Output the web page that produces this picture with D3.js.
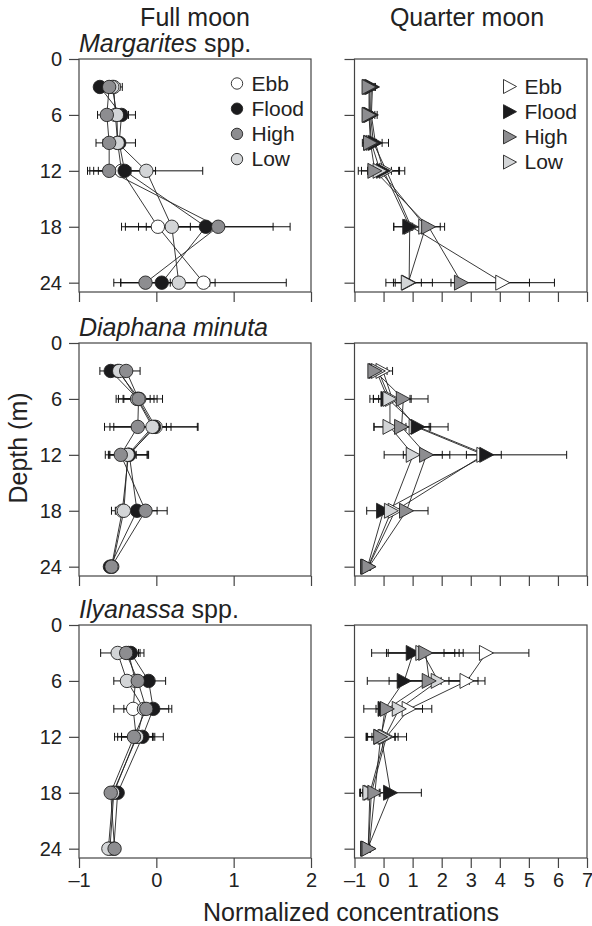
<!DOCTYPE html>
<html>
<head>
<meta charset="utf-8">
<script src="https://cdn.jsdelivr.net/npm/d3@7"></script>
<style>
  body { margin: 0; background: #fff; }
  svg { display: block; font-family: "Liberation Sans", Arial, Helvetica, sans-serif; }
</style>
</head>
<body>
<div id="chart"></div>
<script>
// sampling depths and tide states
const depths = [3, 6, 9, 12, 18, 24];
const tides = ["Ebb", "Flood", "High", "Low"];
const depthTicks = [0, 6, 12, 18, 24];
const fullTicks = [-1, 0, 1, 2];
const quarterTicks = [-1, 0, 1, 2, 3, 4, 5, 6, 7];
const columnTitles = ["Full moon", "Quarter moon"];
const speciesNames = [["Margarites", " spp."], ["Diaphana minuta", ""], ["Ilyanassa", " spp."]];

// mean normalized concentration, one row per tide (Ebb, Flood, High, Low)
const margaritesFull = [
  [-0.55, -0.53, -0.50, -0.45, 0.02, 0.61],
  [-0.73, -0.45, -0.48, -0.41, 0.64, 0.07],
  [-0.61, -0.64, -0.61, -0.61, 0.80, -0.14],
  [-0.57, -0.51, -0.50, -0.13, 0.20, 0.29]
];
const margaritesFullErr = [
  [0.08, 0.10, 0.08, 0.30, 0.42, 1.07],
  [0.05, 0.18, 0.21, 0.40, 0.87, 0.62],
  [0.06, 0.12, 0.17, 0.28, 0.93, 0.32],
  [0.13, 0.15, 0.09, 0.73, 0.65, 0.47]
];
const margaritesQuarter = [
  [-0.42, -0.45, -0.35, 0.10, 0.95, 4.10],
  [-0.38, -0.42, -0.28, 0.00, 0.90, 0.88],
  [-0.50, -0.50, -0.45, -0.30, 1.55, 2.68],
  [-0.47, -0.48, -0.42, -0.12, 1.45, 0.85]
];
const margaritesQuarterErr = [
  [0.10, 0.15, 0.30, 0.63, 0.60, 1.78],
  [0.10, 0.20, 0.45, 0.55, 0.55, 0.80],
  [0.08, 0.08, 0.20, 0.57, 0.55, 2.34],
  [0.10, 0.10, 0.15, 0.64, 0.50, 0.45]
];
const diaphanaFull = [
  [-0.50, -0.22, -0.01, -0.36, -0.44, -0.58],
  [-0.59, -0.24, -0.03, -0.35, -0.25, -0.60],
  [-0.39, -0.23, -0.24, -0.46, -0.14, -0.58],
  [-0.48, -0.25, -0.05, -0.37, -0.42, -0.57]
];
const diaphanaFullErr = [
  [0.10, 0.30, 0.54, 0.25, 0.09, 0.03],
  [0.14, 0.25, 0.57, 0.25, 0.26, 0.03],
  [0.18, 0.20, 0.43, 0.20, 0.28, 0.03],
  [0.12, 0.17, 0.18, 0.25, 0.16, 0.03]
];
const diaphanaQuarter = [
  [-0.02, 0.30, 1.12, 3.45, 0.40, -0.52],
  [-0.25, 0.15, 1.19, 3.55, 0.00, -0.55],
  [-0.30, 0.68, 0.62, 1.48, 0.79, -0.50],
  [-0.18, 0.22, 0.22, 1.02, 0.27, -0.53]
];
const diaphanaQuarterErr = [
  [0.33, 0.65, 0.50, 0.60, 0.30, 0.05],
  [0.15, 0.50, 1.03, 2.75, 0.58, 0.05],
  [0.15, 0.85, 0.95, 0.80, 0.74, 0.05],
  [0.30, 0.69, 0.55, 1.00, 0.45, 0.05]
];
const ilyanassaFull = [
  [-0.36, -0.27, -0.30, -0.26, -0.55, -0.60],
  [-0.33, -0.10, -0.04, -0.18, -0.50, -0.55],
  [-0.39, -0.24, -0.13, -0.29, -0.59, -0.54],
  [-0.50, -0.38, -0.16, -0.25, -0.56, -0.62]
];
const ilyanassaFullErr = [
  [0.15, 0.15, 0.25, 0.24, 0.04, 0.03],
  [0.17, 0.22, 0.24, 0.27, 0.04, 0.03],
  [0.16, 0.20, 0.29, 0.25, 0.04, 0.03],
  [0.22, 0.17, 0.14, 0.20, 0.04, 0.03]
];
const ilyanassaQuarter = [
  [3.54, 2.87, 0.88, 0.10, -0.42, -0.52],
  [1.02, 0.71, 0.05, -0.08, 0.24, -0.55],
  [1.45, 1.57, 0.13, -0.10, -0.30, -0.50],
  [1.35, 1.88, 0.54, 0.05, -0.47, -0.53]
];
const ilyanassaQuarterErr = [
  [1.46, 0.62, 0.78, 0.69, 0.30, 0.05],
  [1.43, 1.27, 0.73, 0.47, 1.06, 0.05],
  [1.29, 1.38, 0.30, 0.50, 0.50, 0.05],
  [1.25, 1.37, 0.80, 0.45, 0.32, 0.05]
];

const panels = [
  { row: 0, col: 0, mean: margaritesFull, err: margaritesFullErr },
  { row: 0, col: 1, mean: margaritesQuarter, err: margaritesQuarterErr },
  { row: 1, col: 0, mean: diaphanaFull, err: diaphanaFullErr },
  { row: 1, col: 1, mean: diaphanaQuarter, err: diaphanaQuarterErr },
  { row: 2, col: 0, mean: ilyanassaFull, err: ilyanassaFullErr },
  { row: 2, col: 1, mean: ilyanassaQuarter, err: ilyanassaQuarterErr }
];

// layout
const width = 592, height = 926;
const colX = [[79, 311], [354.5, 587]];
const rowY = [59, 343, 625];
const plotH = 233;
const fills = { Ebb: "#ffffff", Flood: "#1b1b1d", High: "#8d8d90", Low: "#d3d5d7" };
const drawOrder = [0, 1, 3, 2];
const ink = "#222";
const triPath = "M-7,-7.5L7,0L-7,7.5Z";
const fmt = d => d < 0 ? "\u2013" + Math.abs(d) : String(d);

const svg = d3.select("#chart").append("svg")
  .attr("width", width).attr("height", height)
  .attr("viewBox", `0 0 ${width} ${height}`);

function styleAxis(g) {
  g.select(".domain").remove();
  g.selectAll(".tick line").attr("stroke", "#444").attr("stroke-width", 1.2);
  g.selectAll(".tick text").attr("fill", ink).attr("font-size", 20)
    .attr("font-family", "Liberation Sans, Arial, sans-serif");
}

function drawPanel(p) {
  const x = d3.scaleLinear().domain(p.col === 0 ? [-1, 2] : [-1, 7]).range(colX[p.col]);
  const y = d3.scaleLinear().domain([0, 25]).range([rowY[p.row], rowY[p.row] + plotH]);
  const g = svg.append("g");

  const yAxis = d3.axisLeft(y).tickValues(depthTicks).tickSize(10).tickPadding(7)
    .tickFormat(p.col === 0 ? fmt : () => "");
  g.append("g").attr("transform", `translate(${x.range()[0]},0)`).call(yAxis).call(styleAxis);

  const xAxis = d3.axisBottom(x).tickValues(p.col === 0 ? fullTicks : quarterTicks)
    .tickSize(10).tickPadding(5).tickFormat(p.row === 2 ? fmt : () => "");
  g.append("g").attr("transform", `translate(0,${y.range()[1]})`).call(xAxis).call(styleAxis);

  // frame
  g.append("rect")
    .attr("x", x.range()[0]).attr("y", y.range()[0])
    .attr("width", x.range()[1] - x.range()[0]).attr("height", plotH)
    .attr("fill", "none").attr("stroke", "#444").attr("stroke-width", 1.2);

  const series = tides.map((t, i) => ({
    tide: t,
    pts: depths.map((d, j) => ({ d, v: p.mean[i][j], e: p.err[i][j] }))
  }));

  const line = d3.line().x(d => x(d.v)).y(d => y(d.d));
  g.selectAll(".conn").data(series).join("path")
    .attr("d", s => line(s.pts))
    .attr("fill", "none").attr("stroke", ink).attr("stroke-width", 0.9);

  // error bars
  const bars = series.flatMap(s => s.pts);
  const eb = g.selectAll(".eb").data(bars).join("g").attr("stroke", "#111").attr("stroke-width", 1);
  eb.append("line")
    .attr("x1", d => x(d.v - d.e)).attr("x2", d => x(d.v + d.e))
    .attr("y1", d => y(d.d)).attr("y2", d => y(d.d));
  eb.append("line")
    .attr("x1", d => x(d.v - d.e)).attr("x2", d => x(d.v - d.e))
    .attr("y1", d => y(d.d) - 4).attr("y2", d => y(d.d) + 4);
  eb.append("line")
    .attr("x1", d => x(d.v + d.e)).attr("x2", d => x(d.v + d.e))
    .attr("y1", d => y(d.d) - 4).attr("y2", d => y(d.d) + 4);

  // markers
  drawOrder.forEach(i => {
    const s = series[i];
    const m = g.selectAll(null).data(s.pts).join(p.col === 0 ? "circle" : "path")
      .attr("fill", fills[s.tide]).attr("stroke", ink).attr("stroke-width", 0.9);
    if (p.col === 0) {
      m.attr("cx", d => x(d.v)).attr("cy", d => y(d.d)).attr("r", 6.7);
    } else {
      m.attr("d", triPath).attr("transform", d => `translate(${x(d.v)},${y(d.d)})`);
    }
  });

  // species label
  if (p.col === 0) {
    const name = speciesNames[p.row];
    const t = g.append("text").attr("x", x.range()[0]).attr("y", y.range()[0] - 7.5)
      .attr("font-size", 25).attr("fill", ink);
    t.append("tspan").attr("font-style", "italic").text(name[0]);
    if (name[1]) t.append("tspan").text(name[1]);
  }

  // legend
  if (p.row === 0) {
    const lg = g.append("g");
    const lx = p.col === 0 ? 237 : 510;
    tides.forEach((t, i) => {
      const ly = y(0) + 24.5 + i * 25.2 + (p.col === 1 ? 3 : 0);
      if (p.col === 0) {
        lg.append("circle").attr("cx", lx).attr("cy", ly).attr("r", 5.7)
          .attr("fill", fills[t]).attr("stroke", ink).attr("stroke-width", 0.9);
      } else {
        lg.append("path").attr("d", "M-6.5,-7L6.5,0L-6.5,7Z").attr("transform", `translate(${lx},${ly})`)
          .attr("fill", fills[t]).attr("stroke", ink).attr("stroke-width", 0.9);
      }
      lg.append("text").attr("x", lx + 14.5).attr("y", ly + 7.3)
        .attr("font-size", 21).attr("fill", ink).text(t);
    });
  }
}

panels.forEach(drawPanel);

// column titles and axis titles
columnTitles.forEach((c, i) => {
  svg.append("text").attr("x", i === 0 ? 195 : 467).attr("y", 26)
    .attr("text-anchor", "middle").attr("font-size", 25).attr("fill", ink).text(c);
});

svg.append("text")
  .attr("transform", "translate(27,448) rotate(-90)")
  .attr("text-anchor", "middle").attr("font-size", 25).attr("fill", ink)
  .text("Depth (m)");

svg.append("text").attr("x", 351).attr("y", 921)
  .attr("text-anchor", "middle").attr("font-size", 25).attr("fill", ink)
  .text("Normalized concentrations");
</script>
</body>
</html>
